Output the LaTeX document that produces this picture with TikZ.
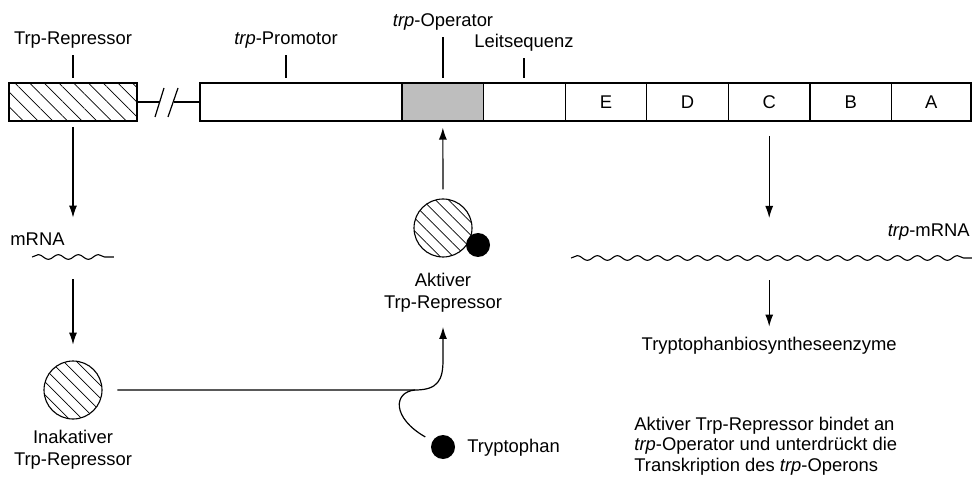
\documentclass[tikz,border=0pt]{standalone}
\usepackage{fontspec}
\setmainfont{Liberation Sans}
\usetikzlibrary{positioning,arrows.meta,patterns.meta,decorations.pathmorphing}
\definecolor{opgray}{HTML}{BEBEBE}

\begin{document}
\begin{tikzpicture}[x=0.5pt,y=-0.5pt,
  font=\fontsize{9.2}{11}\selectfont,
  gene/.style={draw,line width=0.65pt,minimum height=19pt,minimum width=40.8pt,outer sep=0pt,inner sep=0pt},
  hatch/.style={pattern={Lines[angle=-45,distance=5.2pt,line width=0.35pt]}},
  lbl/.style={inner sep=2pt,text height=6.7pt,text depth=1.9pt},
  tick/.style={line width=0.55pt,shorten <=1pt,shorten >=2.5pt},
  arr/.style={-{Latex[length=6pt,width=4pt]},line width=0.6pt},
  prot/.style={circle,draw,line width=0.55pt,pattern={Lines[angle=-45,distance=4.6pt,line width=0.35pt]},minimum size=29pt,inner sep=0pt},
  ligand/.style={circle,fill=black,minimum size=12pt,inner sep=0pt},
  rna/.style={minimum height=2pt,inner sep=0pt},
  wave/.style={decorate,decoration={snake,segment length=10pt,amplitude=1.2pt},line width=0.55pt}]
  \useasboundingbox (0,0) rectangle (972,480);
  % gene row
  \node[gene,hatch,minimum width=64pt] (rep) at (73,102) {};
  \node[gene,minimum width=101pt] (prom) at (301,102) {};
  \node[gene,fill=opgray,right=0pt of prom] (op) {};
  \node[gene,right=0pt of op] (lead) {};
  \node[gene,right=0pt of lead] (E) {E};
  \node[gene,right=0pt of E] (D) {D};
  \node[gene,right=0pt of D] (C) {C};
  \node[gene,right=0pt of C] (B) {B};
  \node[gene,minimum width=39.7pt,right=0pt of B] (A) {A};
  \coordinate (brk1) at (160,102);
  \coordinate (brk2) at (174,102);
  \draw[line width=0.6pt] (rep) -- (brk1);
  \draw[line width=0.6pt] (brk2) -- (prom);
  \draw[line width=0.6pt] (155,117) -- (164,88);
  \draw[line width=0.6pt] (168,117) -- (178,88);
  % labels above
  \node[lbl,anchor=base] (lrep) at (73,45) {Trp-Repressor};
  \node[lbl,anchor=base] (lprom) at (286,45) {\textit{trp}-Promotor};
  \node[lbl,anchor=base] (lop) at (443,27) {\textit{trp}-Operator};
  \node[lbl,anchor=base] (llead) at (524,48) {Leitsequenz};
  \draw[tick] (lrep.south) -- (lrep.south |- rep.north);
  \draw[tick] (lprom.south) -- (lprom.south |- prom.north);
  \draw[tick] (lop.south) -- (lop.south |- op.north);
  \draw[tick] (llead.south) -- (llead.south |- lead.north);
  % repressor branch
  \node[rna,minimum width=40.5pt] (mrna) at (73,257) {};
  \draw[wave] (mrna.west) -- (mrna.east);
  \node[lbl,anchor=base west] (lmrna) at (6,246) {mRNA};
  \draw[arr,shorten <=3pt,shorten >=18.5pt] (rep) -- (mrna);
  \node[prot] (inact) at (73,390) {};
  \draw[arr,shorten <=10pt,shorten >=8pt] (mrna) -- (inact);
  \node[align=center,inner sep=2pt] (linact) at (73,450) {Inakativer\\Trp-Repressor};
  % activation
  \node[prot] (act) at (443,228) {};
  \node[ligand] (actb) at (478,245) {};
  \node[align=center,inner sep=2pt] (lact) at (443,293) {Aktiver\\Trp-Repressor};
  \draw[arr,shorten <=4.5pt,shorten >=3.3pt] (act) -- (op);
  \node[ligand] (trp) at (443,447) {};
  \node[lbl,anchor=base west] (ltrp) at (463,452) {Tryptophan};
  \coordinate (merge) at (415,390);
  \draw[arr,shorten <=7.5pt,shorten >=5pt] (inact) -- (merge) .. controls (438,390) and (443,380) .. (443,360) -- (lact);
  \draw[line width=0.6pt,shorten <=4pt] (trp) .. controls (392,418) and (393,392) .. (merge);
  % operon branch
  \node[rna,minimum width=200pt] (trpm) at (771.5,258) {};
  \draw[wave] (trpm.west) -- (trpm.east);
  \node[lbl,anchor=base east] (ltrpm) at (974,237) {\textit{trp}-mRNA};
  \draw[arr,shorten <=7.4pt,shorten >=20pt] (C) -- (C |- trpm);
  \node[lbl,anchor=base] (enz) at (C |- 0,350) {Tryptophanbiosyntheseenzyme};
  \draw[arr,shorten <=11pt,shorten >=2.8pt] (C |- trpm) -- (enz);
  \node[align=left,anchor=west,inner sep=2pt,font=\fontsize{9.2}{10.3}\selectfont] (note) at (630,446) {Aktiver Trp-Repressor bindet an\\\textit{trp}-Operator und unterdrückt die\\Transkription des \textit{trp}-Operons};
\end{tikzpicture}
\end{document}
